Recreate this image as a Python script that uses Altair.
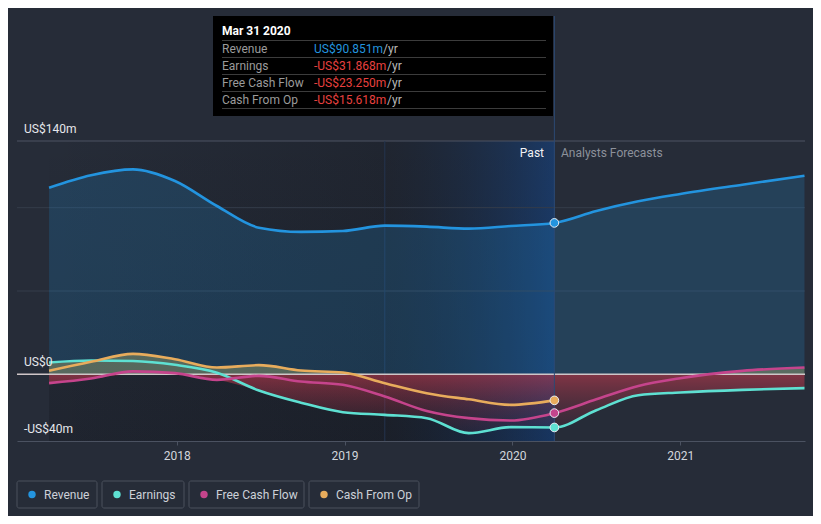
import altair as alt
import pandas as pd

# ---------------- data ----------------
series_names = ["Revenue", "Earnings", "Free Cash Flow", "Cash From Op"]
series_colors = ["#2394df", "#5ee0d2", "#c5448c", "#e8ac5c"]

past_t = [2017.24, 2017.49, 2017.74, 2017.99, 2018.24, 2018.49, 2018.74,
          2018.99, 2019.24, 2019.49, 2019.74, 2019.99, 2020.25]
revenue_past = [112.0, 119.5, 123.0, 116.0, 101.0, 88.0, 85.5, 86.0, 89.2,
                88.6, 87.4, 89.0, 90.851]
earnings_past = [7.1, 8.3, 8.0, 5.7, 1.0, -9.7, -17.0, -22.7, -24.3, -26.3,
                 -35.3, -31.7, -31.868]
fcf_past = [-5.3, -2.5, 1.8, 0.7, -3.3, -0.9, -4.3, -6.3, -13.3, -22.0,
            -26.3, -27.7, -23.25]
cfo_past = [2.1, 7.5, 12.3, 9.1, 4.1, 5.5, 2.3, 1.1, -5.3, -11.3, -15.0,
            -18.3, -15.618]

fc_t = [2020.5, 2020.75, 2021.0, 2021.37, 2021.74]
revenue_fc = [98.0, 103.8, 108.2, 113.8, 119.2]
earnings_fc = [-21.5, -12.5, -10.9, -9.3, -8.3]
fcf_fc = [-15.0, -7.0, -2.3, 2.1, 4.1]

past_start = 2017.24
highlight_start = 2019.24
now_t = 2020.25

y_label_vals = [140, 0, -40]
y_label_text = ["US$140m", "US$0", "-US$40m"]
year_ticks = [2018, 2019, 2020, 2021]

tooltip_title = "Mar 31 2020"
tooltip_labels = ["Revenue", "Earnings", "Free Cash Flow", "Cash From Op"]
tooltip_values = ["US$90.851m", "-US$31.868m", "-US$23.250m", "-US$15.618m"]
tooltip_value_colors = ["#2394df", "#e8403f", "#e8403f", "#e8403f"]

# ---------------- frames ----------------
rows = []
full = {
    "Revenue": (past_t + fc_t, revenue_past + revenue_fc),
    "Earnings": (past_t + fc_t, earnings_past + earnings_fc),
    "Free Cash Flow": (past_t + fc_t, fcf_past + fcf_fc),
    "Cash From Op": (past_t, cfo_past),
}
for name, (ts, vs) in full.items():
    for t, v in zip(ts, vs):
        rows.append({"t": t, "v": v, "s": name})
series_df = pd.DataFrame(rows)
rev_df = series_df[series_df.s == "Revenue"]

env_rows = []
grid_t = past_t + fc_t
for i, t in enumerate(grid_t):
    vals = [(earnings_past + earnings_fc)[i], (fcf_past + fcf_fc)[i]]
    if i < len(past_t):
        vals.append(cfo_past[i])
    env_rows.append({"t": t, "neg": min(min(vals), 0), "pos": max(max(vals), 0)})
env_df = pd.DataFrame(env_rows)

now_df = pd.DataFrame({
    "t": [now_t] * 4,
    "v": [revenue_past[-1], earnings_past[-1], fcf_past[-1], cfo_past[-1]],
    "s": series_names,
})
region_df = pd.DataFrame({"a": [past_start], "b": [highlight_start], "c": [now_t]})
ylab_df = pd.DataFrame({"v": y_label_vals, "txt": y_label_text})
one = pd.DataFrame({"k": [0]})

# ---------------- scales ----------------
W, H = 788, 300
FONT = "Roboto"
xscale = alt.Scale(domain=[2017.049, 2021.743], nice=False, zero=False)
yscale = alt.Scale(domain=[-40, 140], nice=False, zero=False)
xaxis = alt.Axis(values=year_ticks, format="d", title=None, grid=False,
                 labelColor="#d2d6dc", labelFontSize=12, labelPadding=5,
                 labelFont=FONT, tickColor="#4b5261", tickSize=4,
                 domainColor="#4b5261", domainWidth=1)


def X(f):
    return alt.X(f, type="quantitative", scale=xscale, axis=xaxis)


def Y(f):
    return alt.Y(f, type="quantitative", scale=yscale, axis=None)


color_enc = alt.Color("s:N", scale=alt.Scale(domain=series_names, range=series_colors), legend=None)


def grad(c0, c1, horizontal=False):
    return alt.LinearGradient(
        gradient="linear",
        stops=[alt.GradientStop(color=c0, offset=0), alt.GradientStop(color=c1, offset=1)],
        x1=0, y1=0, x2=1 if horizontal else 0, y2=0 if horizontal else 1,
    )


layers = []

# background regions
layers.append(alt.Chart(region_df).mark_rect(
    fill=grad("rgba(8,10,16,0)", "rgba(8,10,16,0.22)")).encode(
    x=X("a"), x2="c", y=alt.value(0), y2=alt.value(H)))
layers.append(alt.Chart(region_df).mark_rect(
    fill=grad("rgba(8,10,16,0)", "rgba(8,10,16,0.2)", horizontal=True)).encode(
    x=X("a"), x2="b", y=alt.value(0), y2=alt.value(H)))
layers.append(alt.Chart(region_df).mark_rect(
    fill=grad("rgba(8,10,16,0.2)", "rgba(14,74,156,0.45)", horizontal=True)).encode(
    x=X("b"), x2="c", y=alt.value(0), y2=alt.value(H)))

# gridlines
layers.append(alt.Chart(pd.DataFrame({"g": [100, 50]})).mark_rule(
    color="#343c4a", strokeWidth=1).encode(y=Y("g"), x=alt.value(0), x2=alt.value(W)))
layers.append(alt.Chart(pd.DataFrame({"g": [140]})).mark_rule(
    color="#4c5362", strokeWidth=1).encode(y=Y("g"), x=alt.value(0), x2=alt.value(W)))

# region separator line
layers.append(alt.Chart(region_df).mark_rule(color="#24344f", strokeWidth=1).encode(
    x=X("b"), y=alt.value(0), y2=alt.value(H)))

# revenue area
layers.append(alt.Chart(rev_df).mark_area(
    interpolate="monotone", color="#2394df", opacity=0.2).encode(
    x=X("t"), y=Y("v"), y2=alt.datum(0)))

# positive / negative envelopes
layers.append(alt.Chart(env_df).mark_area(
    interpolate="monotone", color="rgba(175,178,110,1)", opacity=0.38).encode(
    x=X("t"), y=Y("pos"), y2=alt.datum(0)))
layers.append(alt.Chart(env_df).mark_area(
    interpolate="monotone",
    fill=grad("rgba(205,60,80,0.55)", "rgba(120,40,60,0.12)")).encode(
    x=X("t"), y=Y("neg"), y2=alt.datum(0)))

# zero line
layers.append(alt.Chart(pd.DataFrame({"z": [0]})).mark_rule(
    color="#cfc6c8", strokeWidth=1.5).encode(y=Y("z"), x=alt.value(0), x2=alt.value(W)))

# now line
layers.append(alt.Chart(region_df).mark_rule(color="#2c4a74", strokeWidth=1).encode(
    x=X("c"), y=alt.value(-125), y2=alt.value(H)))

# series lines
layers.append(alt.Chart(series_df).mark_line(
    interpolate="monotone", strokeWidth=2.6).encode(
    x=X("t"), y=Y("v"), color=color_enc))

# markers
layers.append(alt.Chart(now_df).mark_circle(
    size=75, opacity=1, stroke="#e8ecf2", strokeWidth=1).encode(
    x=X("t"), y=Y("v"), color=color_enc))

# y labels
layers.append(alt.Chart(ylab_df).mark_text(
    align="left", baseline="middle", dy=-12, fontSize=12, font=FONT,
    color="#e6e8ec").encode(y=Y("v"), x=alt.value(7), text="txt:N"))


def deco_text(txt, x, y, color, size=12, weight="normal", align="left"):
    return alt.Chart(one).mark_text(
        text=txt, align=align, baseline="middle", color=color, fontSize=size,
        fontWeight=weight, font=FONT).encode(x=alt.value(x), y=alt.value(y))


def deco_rect(x, x2, y, y2, **kw):
    return alt.Chart(one).mark_rect(**kw).encode(
        x=alt.value(x), x2=alt.value(x2), y=alt.value(y), y2=alt.value(y2))


def deco_line(x, x2, y, color):
    return alt.Chart(one).mark_rule(color=color, strokeWidth=1).encode(
        x=alt.value(x), x2=alt.value(x2), y=alt.value(y))


layers.append(deco_text("Past", 527, 12, "#f2f3f5", align="right"))
layers.append(deco_text("Analysts Forecasts", 544, 12, "#8c919b"))

# tooltip box
layers.append(deco_rect(196, 536, -125, -25, fill="#000000"))
layers.append(deco_text(tooltip_title, 205, -110, "#ffffff", weight="bold"))
sep_y = [-100.5, -83.5, -66.5, -49.5, -32.5]
for sy in sep_y:
    layers.append(deco_line(205, 529, sy, "#3c3c3c"))
row_y = [-92, -75, -58, -41]
yr_x = [366, 370, 370, 370]
for i in range(4):
    layers.append(deco_text(tooltip_labels[i], 205, row_y[i], "#9b9b9b"))
    layers.append(deco_text(tooltip_values[i], 297, row_y[i], tooltip_value_colors[i]))
    layers.append(deco_text("/yr", yr_x[i], row_y[i], "#b8b8b8"))

# legend
leg_box = [(0, 80), (85, 167), (172, 287), (292, 402)]
for i, name in enumerate(series_names):
    bx0, bx1 = leg_box[i]
    layers.append(deco_rect(bx0, bx1, 340, 367, fill="#262c38", stroke="#4a505c",
                            strokeWidth=1, cornerRadius=2))
    layers.append(alt.Chart(one).mark_circle(size=55, opacity=1, color=series_colors[i]).encode(
        x=alt.value(bx0 + 15), y=alt.value(353.5)))
    layers.append(deco_text(name, bx0 + 27, 353.5, "#cdd1d8"))

chart = alt.layer(*layers).properties(
    width=W, height=H,
    padding={"left": 9, "top": 133, "right": 8, "bottom": 75},
    autosize="none",
    background="#262c38",
).configure_view(stroke=None).configure_text(font=FONT)

chart.save("out.html", embed_options={"renderer": "svg", "actions": False})
